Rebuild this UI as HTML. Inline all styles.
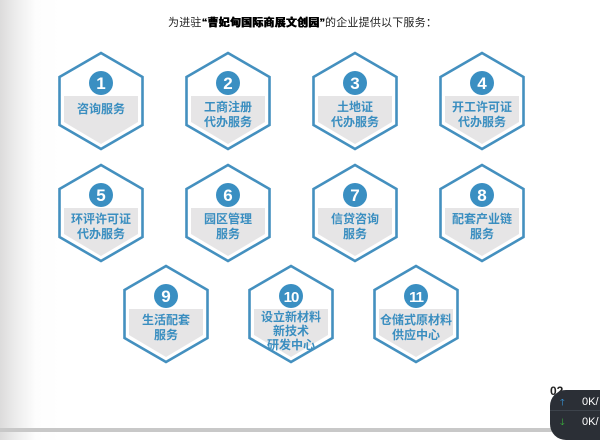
<!DOCTYPE html>
<html><head><meta charset="utf-8"><style>
html,body{margin:0;padding:0;}
body{width:600px;height:432px;overflow:hidden;position:relative;background:linear-gradient(to right,#dcdbdb 0px,#ebebeb 14px,#fdfdfd 36px,#fff 60px);font-family:"Liberation Sans","Noto Sans CJK SC",sans-serif;}
.title{position:absolute;left:168px;top:14px;font-size:11px;color:#222;white-space:nowrap;letter-spacing:0.2px;}
.title b{font-weight:900;color:#000;text-shadow:0.5px 0 0 #000;}
.bar{position:absolute;left:0;top:428px;width:600px;height:4px;background:#c8c8c8;}
.w{position:absolute;left:550px;top:390px;width:70px;height:50px;background:#2b2f36;border-radius:16px;}
.w span{position:absolute;color:#fff;font-size:11px;}
</style></head><body>
<div class="title">为进驻<b>“曹妃甸国际商展文创园”</b>的企业提供以下服务：</div>
<svg width="600" height="432" style="position:absolute;left:0;top:0">
<defs>
<g id="hx">
<polygon points="-37,-5 37,-5 37,21 0,43 -37,21" fill="#e6e5e6"/>
<polygon points="0,-48 41.5,-24 41.5,24 0,48 -41.5,24 -41.5,-24" fill="none" stroke="#4490bf" stroke-width="2.6"/>
<circle cx="0" cy="-18" r="12" fill="#3a8fc2"/>
</g>
</defs>
<g font-family="Liberation Sans, Noto Sans CJK SC, sans-serif" font-weight="bold" text-anchor="middle">
<!-- row 1 -->
<g transform="translate(101,101)"><use href="#hx"/><text y="-12" font-size="17" fill="#fff">1</text><text y="12" font-size="12" fill="#3a8ec0">咨询服务</text></g>
<g transform="translate(228,101)"><use href="#hx"/><text y="-12" font-size="17" fill="#fff">2</text><text y="10" font-size="12" fill="#3a8ec0">工商注册</text><text y="25" font-size="12" fill="#3a8ec0">代办服务</text></g>
<g transform="translate(355,101)"><use href="#hx"/><text y="-12" font-size="17" fill="#fff">3</text><text y="10" font-size="12" fill="#3a8ec0">土地证</text><text y="25" font-size="12" fill="#3a8ec0">代办服务</text></g>
<g transform="translate(482,101)"><use href="#hx"/><text y="-12" font-size="17" fill="#fff">4</text><text y="10" font-size="12" fill="#3a8ec0">开工许可证</text><text y="25" font-size="12" fill="#3a8ec0">代办服务</text></g>
<!-- row 2 -->
<g transform="translate(101,213)"><use href="#hx"/><text y="-12" font-size="17" fill="#fff">5</text><text y="10" font-size="12" fill="#3a8ec0">环评许可证</text><text y="25" font-size="12" fill="#3a8ec0">代办服务</text></g>
<g transform="translate(228,213)"><use href="#hx"/><text y="-12" font-size="17" fill="#fff">6</text><text y="10" font-size="12" fill="#3a8ec0">园区管理</text><text y="25" font-size="12" fill="#3a8ec0">服务</text></g>
<g transform="translate(355,213)"><use href="#hx"/><text y="-12" font-size="17" fill="#fff">7</text><text y="10" font-size="12" fill="#3a8ec0">信贷咨询</text><text y="25" font-size="12" fill="#3a8ec0">服务</text></g>
<g transform="translate(482,213)"><use href="#hx"/><text y="-12" font-size="17" fill="#fff">8</text><text y="10" font-size="12" fill="#3a8ec0">配套产业链</text><text y="25" font-size="12" fill="#3a8ec0">服务</text></g>
<!-- row 3 -->
<g transform="translate(166,314)"><use href="#hx"/><text y="-12" font-size="17" fill="#fff">9</text><text y="10" font-size="12" fill="#3a8ec0">生活配套</text><text y="25" font-size="12" fill="#3a8ec0">服务</text></g>
<g transform="translate(291,314)"><use href="#hx"/><text y="-12" font-size="15" fill="#fff" letter-spacing="-1">10</text><text y="7" font-size="12" fill="#3a8ec0">设立新材料</text><text y="21" font-size="12" fill="#3a8ec0">新技术</text><text y="35" font-size="12" fill="#3a8ec0">研发中心</text></g>
<g transform="translate(416,314)"><use href="#hx"/><text y="-12" font-size="15" fill="#fff" letter-spacing="-1">11</text><text y="10" font-size="12" fill="#3a8ec0">仓储式原材料</text><text y="25" font-size="12" fill="#3a8ec0">供应中心</text></g>
</g>
<text x="550" y="395" font-family="Liberation Sans, sans-serif" font-size="12" font-weight="bold" fill="#222">02</text>
</svg>
<div class="bar"></div>
<div class="w">
<span style="left:10px;top:5px;color:#3aa0e8;font-size:9px">🡑</span><span style="left:32px;top:6px">0K/</span>
<div style="position:absolute;left:0;top:20px;width:70px;height:1px;background:#3d434b"></div>
<span style="left:10px;top:25px;color:#3bbf3b;font-size:9px">🡓</span><span style="left:32px;top:26px">0K/</span>
</div>
</body></html>
